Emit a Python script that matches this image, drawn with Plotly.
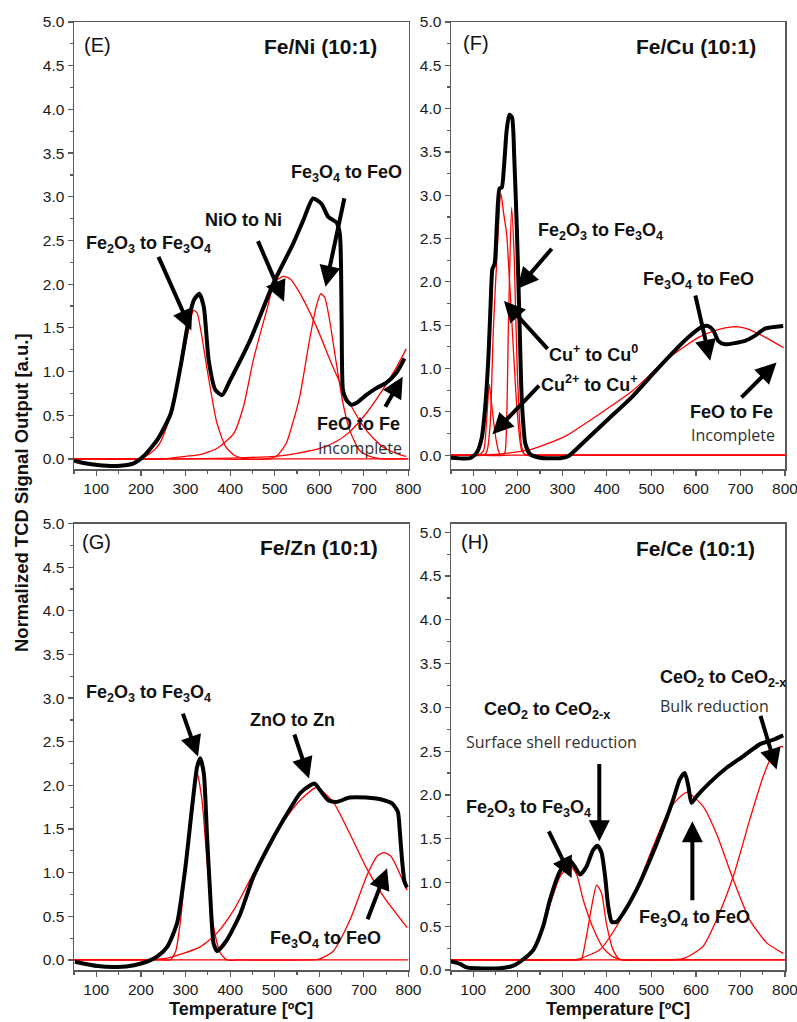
import plotly.graph_objects as go

# ---------------- DATA ----------------
# Panel E  Fe/Ni (10:1)
E_T = [50, 75, 103, 147, 184, 206, 237, 267, 289, 307, 319, 331, 341, 352, 367, 382, 400, 445, 497, 542,
       564, 586, 605, 620, 638, 646, 650, 653, 660, 672, 683, 705, 728, 750, 772, 791]
E_S = [-0.02, -0.05, -0.07, -0.08, -0.05, 0.03, 0.22, 0.52, 1.06, 1.59, 1.82, 1.89, 1.74, 1.13, 0.79, 0.73, 0.90,
       1.36, 2.01, 2.47, 2.73, 2.98, 2.92, 2.77, 2.71, 2.58, 1.60, 0.79, 0.68, 0.62, 0.64, 0.73, 0.81, 0.87, 0.98, 1.15]
E_fe2o3_T = [50, 120, 180, 200, 220, 240, 260, 280, 300, 310, 318, 326, 335, 350, 370, 390, 410, 440, 500, 600, 700, 800]
E_fe2o3_S = [0, 0, 0, 0.01, 0.06, 0.16, 0.40, 0.80, 1.30, 1.56, 1.70, 1.67, 1.45, 0.98, 0.42, 0.14, 0.04, 0, 0, 0, 0, 0]
E_nio_T = [50, 150, 250, 300, 333, 370, 408, 430, 452, 482, 500, 519, 535, 556, 593, 630, 668, 705, 742, 780, 795]
E_nio_S = [0, 0, 0, 0.03, 0.05, 0.12, 0.29, 0.60, 1.13, 1.70, 2.02, 2.09, 2.06, 1.90, 1.52, 1.06, 0.64, 0.33, 0.14, 0.05, 0.03]
E_fe3o4_T = [50, 200, 350, 480, 504, 526, 534, 556, 578, 593, 603, 612, 623, 638, 653, 668, 690, 713, 740, 770, 800]
E_fe3o4_S = [0, 0, 0, 0, 0.03, 0.18, 0.30, 0.71, 1.36, 1.74, 1.89, 1.85, 1.59, 1.10, 0.64, 0.33, 0.10, 0.03, 0, 0, 0]
E_feo_T = [50, 150, 300, 400, 500, 556, 601, 638, 668, 705, 742, 772, 795]
E_feo_S = [0, 0, 0, 0.01, 0.03, 0.07, 0.12, 0.20, 0.31, 0.52, 0.79, 1.04, 1.26]

# Panel F  Fe/Cu (10:1)
F_T = [50, 93, 108, 119, 126, 134, 139, 143, 148, 153, 159, 164, 169, 175, 181, 187, 192, 198, 204, 209, 217,
       228, 250, 295, 314, 352, 404, 456, 509, 553, 583, 613, 628, 639, 650, 665, 710, 733, 755, 796]
F_S = [-0.03, -0.035, 0.03, 0.20, 0.51, 1.13, 1.75, 2.15, 2.21, 2.67, 3.08, 3.09, 3.33, 3.75, 3.93, 3.90, 3.44,
       2.59, 1.51, 0.63, 0.13, 0.01, -0.03, -0.035, -0.01, 0.17, 0.42, 0.67, 0.97, 1.21, 1.36, 1.48, 1.49, 1.44,
       1.32, 1.28, 1.32, 1.38, 1.46, 1.49]
F_cu2_T = [50, 80, 110, 123, 130, 136, 142, 149, 156, 161, 180, 300, 500, 700, 800]
F_cu2_S = [0, 0, 0, 0.05, 0.40, 0.82, 0.55, 0.25, 0.06, 0, 0, 0, 0, 0, 0]
F_cu1_T = [50, 90, 125, 131, 138, 145, 153, 162, 168, 175, 181, 187, 198, 209, 220, 250, 400, 600, 800]
F_cu1_S = [0, 0, 0, 0.05, 0.36, 1.44, 2.28, 3.02, 2.80, 2.55, 2.05, 1.51, 0.55, 0.05, 0, 0, 0, 0, 0]
F_fe2o3_T = [50, 110, 168, 172, 179, 186, 192, 199, 209, 217, 240, 400, 600, 800]
F_fe2o3_S = [0, 0, 0, 0.05, 1.51, 2.86, 2.28, 0.94, 0.09, 0, 0, 0, 0, 0]
F_fe3o4_T = [50, 75, 100, 157, 232, 307, 382, 457, 531, 606, 650, 681, 696, 720, 756, 797]
F_fe3o4_S = [0, 0, 0, 0.01, 0.07, 0.22, 0.47, 0.74, 1.09, 1.36, 1.45, 1.48, 1.48, 1.45, 1.36, 1.24]

# Panel G  Fe/Zn (10:1)
G_T = [52, 103, 148, 185, 214, 237, 259, 281, 300, 315, 326, 333, 341, 348, 356, 363, 371, 393, 423, 452, 482,
       519, 557, 579, 590, 601, 620, 638, 668, 705, 745, 764, 776, 781, 786, 791, 797]
G_S = [-0.02, -0.07, -0.08, -0.06, -0.02, 0.04, 0.15, 0.42, 1.07, 1.76, 2.21, 2.31, 2.14, 1.45, 0.69, 0.19, 0.10,
       0.23, 0.53, 0.95, 1.26, 1.60, 1.91, 2.00, 2.02, 1.95, 1.83, 1.81, 1.86, 1.86, 1.83, 1.79, 1.70, 1.44, 1.12,
       0.90, 0.83]
G_fe2o3_T = [50, 150, 250, 266, 278, 289, 304, 318, 326, 337, 348, 363, 378, 393, 420, 550, 700, 800]
G_fe2o3_S = [0, 0, 0, 0, 0.10, 0.46, 1.26, 1.91, 2.14, 1.83, 1.15, 0.38, 0.08, 0, 0, 0, 0, 0]
G_zno_T = [50, 120, 200, 259, 333, 371, 408, 445, 482, 519, 557, 590, 600, 631, 669, 707, 745, 797]
G_zno_S = [0, 0, 0, 0.02, 0.15, 0.31, 0.57, 0.92, 1.26, 1.58, 1.83, 1.97, 1.96, 1.81, 1.44, 1.04, 0.72, 0.37]
G_fe3o4_T = [50, 200, 400, 580, 600, 631, 669, 707, 730, 745, 760, 776, 791, 797]
G_fe3o4_S = [0, 0, 0, 0, 0.01, 0.10, 0.46, 0.97, 1.19, 1.23, 1.19, 1.04, 0.86, 0.80]

# Panel H  Fe/Ce (10:1)
H_T = [48, 70, 85, 107, 160, 190, 212, 235, 257, 272, 295, 306, 317, 328, 340, 354, 369, 379, 388, 396, 403,
       411, 422, 437, 467, 497, 527, 549, 564, 575, 583, 590, 601, 631, 669, 706, 744, 774, 796]
H_S = [0.10, 0.07, 0.03, 0.02, 0.02, 0.05, 0.12, 0.23, 0.50, 0.80, 1.13, 1.20, 1.25, 1.18, 1.09, 1.18, 1.37, 1.42,
       1.34, 1.07, 0.73, 0.55, 0.55, 0.65, 0.92, 1.26, 1.64, 1.95, 2.18, 2.25, 2.10, 1.91, 1.98, 2.14, 2.31, 2.44,
       2.58, 2.63, 2.68]
H_fe2o3_T = [50, 120, 200, 212, 235, 257, 272, 295, 317, 332, 347, 369, 392, 414, 437, 470, 600, 700, 800]
H_fe2o3_S = [0.115, 0.115, 0.115, 0.13, 0.23, 0.48, 0.74, 1.07, 1.19, 1.09, 0.80, 0.48, 0.25, 0.15, 0.115, 0.115,
             0.115, 0.115, 0.115]
H_ceo2s_T = [50, 200, 340, 343, 354, 366, 377, 388, 399, 414, 429, 460, 600, 700, 800]
H_ceo2s_S = [0.115, 0.115, 0.115, 0.12, 0.38, 0.73, 0.97, 0.88, 0.53, 0.23, 0.12, 0.115, 0.115, 0.115, 0.115]
H_fe3o4_T = [50, 150, 300, 332, 384, 422, 467, 504, 542, 579, 616, 646, 684, 721, 759, 796]
H_fe3o4_S = [0.115, 0.115, 0.115, 0.12, 0.23, 0.50, 0.94, 1.41, 1.85, 2.03, 1.87, 1.56, 1.03, 0.57, 0.31, 0.19]
H_ceo2b_T = [50, 200, 400, 520, 572, 616, 646, 684, 721, 751, 774, 789, 796]
H_ceo2b_S = [0.115, 0.115, 0.115, 0.115, 0.13, 0.27, 0.57, 1.07, 1.72, 2.21, 2.48, 2.55, 2.55]

# axis ranges / ticks
T_RANGE = [50, 800]
Y_RANGES = {"E": [-0.115, 5.0], "F": [-0.16, 5.0], "G": [-0.115, 5.0], "H": [0.0, 5.1]}

# ---------------- FIGURE ----------------
W, H = 797, 1022

def fx(px):
    return px / W

def fy(py):
    return 1 - py / H

X_DOM = {"E": [fx(74), fx(408.5)], "F": [fx(451), fx(785)], "G": [fx(74), fx(408.5)], "H": [fx(451), fx(785)]}
Y_DOM = {"E": [fy(469), fy(22)], "F": [fy(469), fy(22)], "G": [fy(970), fy(523.5)], "H": [fy(970), fy(523.5)]}
AX = {"E": ("x", "y", "xaxis", "yaxis"), "F": ("x2", "y2", "xaxis2", "yaxis2"),
      "G": ("x3", "y3", "xaxis3", "yaxis3"), "H": ("x4", "y4", "xaxis4", "yaxis4")}

BLACK = {"E": (E_T, E_S), "F": (F_T, F_S), "G": (G_T, G_S), "H": (H_T, H_S)}
FITS = {
    "E": [(E_fe2o3_T, E_fe2o3_S), (E_nio_T, E_nio_S), (E_fe3o4_T, E_fe3o4_S), (E_feo_T, E_feo_S)],
    "F": [(F_cu2_T, F_cu2_S), (F_cu1_T, F_cu1_S), (F_fe2o3_T, F_fe2o3_S), (F_fe3o4_T, F_fe3o4_S)],
    "G": [(G_fe2o3_T, G_fe2o3_S), (G_zno_T, G_zno_S), (G_fe3o4_T, G_fe3o4_S)],
    "H": [(H_fe2o3_T, H_fe2o3_S), (H_ceo2s_T, H_ceo2s_S), (H_fe3o4_T, H_fe3o4_S), (H_ceo2b_T, H_ceo2b_S)],
}

fig = go.Figure()
FRAME = "#5a5a5a"
FONT = "Liberation Sans, Arial, sans-serif"

for p in ["E", "F", "G", "H"]:
    xa, ya, xk, yk = AX[p]
    for t, s in FITS[p]:
        fig.add_trace(go.Scatter(x=t, y=s, mode="lines", xaxis=xa, yaxis=ya,
                                 line=dict(color="#ff0000", width=1.3, shape="spline", smoothing=0.6),
                                 showlegend=False, hoverinfo="skip"))
    bt, bs = BLACK[p]
    fig.add_trace(go.Scatter(x=bt, y=bs, mode="lines", xaxis=xa, yaxis=ya,
                             line=dict(color="black", width=4, shape="spline", smoothing=0.6),
                             showlegend=False, hoverinfo="skip"))
    fig.layout[xk] = dict(domain=X_DOM[p], anchor=ya, range=T_RANGE, dtick=100, tick0=0,
                          ticks="outside", ticklen=5, tickwidth=1.2, tickcolor=FRAME,
                          showline=True, linecolor=FRAME, linewidth=1.5, mirror=True,
                          showgrid=False, zeroline=False, automargin=False, ticklabeloverflow="allow",
                          tickfont=dict(family=FONT, size=15.5, color="#1a1a1a"),
                          minor=dict(ticks="outside", ticklen=3, dtick=50, tick0=0, tickcolor=FRAME, tickwidth=1.2))
    fig.layout[yk] = dict(domain=Y_DOM[p], anchor=xa, range=Y_RANGES[p], dtick=0.5, tick0=0,
                          tickformat=".1f", ticks="outside", ticklen=5, tickwidth=1.2, tickcolor=FRAME,
                          showline=True, linecolor=FRAME, linewidth=1.5, mirror=True,
                          showgrid=False, zeroline=False, automargin=False, ticklabeloverflow="allow",
                          tickfont=dict(family=FONT, size=15.5, color="#1a1a1a"),
                          minor=dict(ticks="outside", ticklen=3, dtick=0.25, tick0=0, tickcolor=FRAME, tickwidth=1.2))

ann = []

def label(p, x, y, text, size=18, bold=True, xanchor="center", color="#111", family=FONT):
    xa, ya, _, _ = AX[p]
    ann.append(dict(x=x, y=y, xref=xa, yref=ya, text=("<b>%s</b>" % text) if bold else text,
                    showarrow=False, xanchor=xanchor, yanchor="middle",
                    font=dict(family=family, size=size, color=color)))

def arrow(p, x0, y0, x1, y1):
    xa, ya, _, _ = AX[p]
    ann.append(dict(x=x1, y=y1, ax=x0, ay=y0, xref=xa, yref=ya, axref=xa, ayref=ya, text="",
                    showarrow=True, arrowhead=2, arrowsize=1.05, arrowwidth=4, arrowcolor="black"))

LIGHT = "Open Sans, Noto Sans, sans-serif"
GREY = "#303030"

# E
label("E", 69, 4.74, "(E)", size=20, bold=False, xanchor="left")
label("E", 603, 4.72, "Fe/Ni (10:1)", size=21)
label("E", 218, 2.45, "Fe<sub>2</sub>O<sub>3</sub> to Fe<sub>3</sub>O<sub>4</sub>")
label("E", 431, 2.74, "NiO to Ni")
label("E", 660, 3.27, "Fe<sub>3</sub>O<sub>4</sub> to FeO")
label("E", 687, 0.40, "FeO to Fe")
label("E", 692, 0.13, "Incomplete", size=16, bold=False, color=GREY, family=LIGHT)
arrow("E", 238, 2.33, 313, 1.47)
arrow("E", 461, 2.51, 521, 1.80)
arrow("E", 657, 3.0, 614, 1.97)
arrow("E", 746, 0.58, 787, 0.94)

# F
label("F", 72, 4.76, "(F)", size=20, bold=False, xanchor="left")
label("F", 600, 4.72, "Fe/Cu (10:1)", size=21)
label("F", 386, 2.58, "Fe<sub>2</sub>O<sub>3</sub> to Fe<sub>3</sub>O<sub>4</sub>")
label("F", 369, 1.17, "Cu<sup>+</sup> to Cu<sup>0</sup>")
label("F", 360, 0.83, "Cu<sup>2+</sup> to Cu<sup>+</sup>")
label("F", 606, 2.02, "Fe<sub>3</sub>O<sub>4</sub> to FeO")
label("F", 680, 0.50, "FeO to Fe")
label("F", 683, 0.23, "Incomplete", size=16, bold=False, color=GREY, family=LIGHT)
arrow("F", 279, 2.40, 199, 1.92)
arrow("F", 270, 1.21, 169, 1.78)
arrow("F", 251, 0.82, 143, 0.24)
arrow("F", 598, 1.86, 632, 1.09)
arrow("F", 699, 0.65, 781, 1.07)

# G
label("G", 64, 4.79, "(G)", size=20, bold=False, xanchor="left")
label("G", 599, 4.72, "Fe/Zn (10:1)", size=21)
label("G", 218, 3.05, "Fe<sub>2</sub>O<sub>3</sub> to Fe<sub>3</sub>O<sub>4</sub>")
label("G", 541, 2.75, "ZnO to Zn")
label("G", 615, 0.24, "Fe<sub>3</sub>O<sub>4</sub> to FeO")
arrow("G", 293, 2.84, 328, 2.33)
arrow("G", 543, 2.60, 577, 2.08)
arrow("G", 707, 0.45, 752, 1.05)

# H
label("H", 69, 4.89, "(H)", size=20, bold=False, xanchor="left")
label("H", 599, 4.81, "Fe/Ce (10:1)", size=21)
label("H", 265, 2.96, "CeO<sub>2</sub> to CeO<sub>2-x</sub>")
label("H", 276, 2.60, "Surface shell reduction", size=16, bold=False, color=GREY, family=LIGHT)
label("H", 224, 1.85, "Fe<sub>2</sub>O<sub>3</sub> to Fe<sub>3</sub>O<sub>4</sub>")
label("H", 596, 0.59, "Fe<sub>3</sub>O<sub>4</sub> to FeO")
label("H", 515, 3.33, "CeO<sub>2</sub> to CeO<sub>2-x</sub>", xanchor="left")
label("H", 515, 3.02, "Bulk reduction", size=16, bold=False, color=GREY, family=LIGHT, xanchor="left")
arrow("H", 268, 1.60, 321, 1.05)
arrow("H", 383, 2.37, 383, 1.47)
arrow("H", 592, 0.78, 592, 1.70)
arrow("H", 744, 2.92, 781, 2.29)

# axis titles
ann.append(dict(x=fx(21), y=fy(493), xref="paper", yref="paper", showarrow=False, textangle=-90,
                text="<b>Normalized TCD Signal Output [a.u.]</b>", xanchor="center", yanchor="middle",
                font=dict(family=FONT, size=18.5, color="#111")))
for p in ["G", "H"]:
    cx = (X_DOM[p][0] + X_DOM[p][1]) / 2
    ann.append(dict(x=cx, y=fy(1009), xref="paper", yref="paper", showarrow=False,
                    text="<b>Temperature [ºC]</b>", xanchor="center", yanchor="middle",
                    font=dict(family=FONT, size=18, color="#111")))

fig.update_layout(template="none", width=W, height=H,
                  margin=dict(l=0, r=0, t=0, b=0, pad=0, autoexpand=False),
                  paper_bgcolor="white", plot_bgcolor="white", showlegend=False,
                  font=dict(family=FONT, color="#111"),
                  annotations=ann)
fig.write_html("out.html", config={"displayModeBar": False, "staticPlot": True},
               post_script="document.body.style.margin='0px';document.body.style.overflow='hidden';")
